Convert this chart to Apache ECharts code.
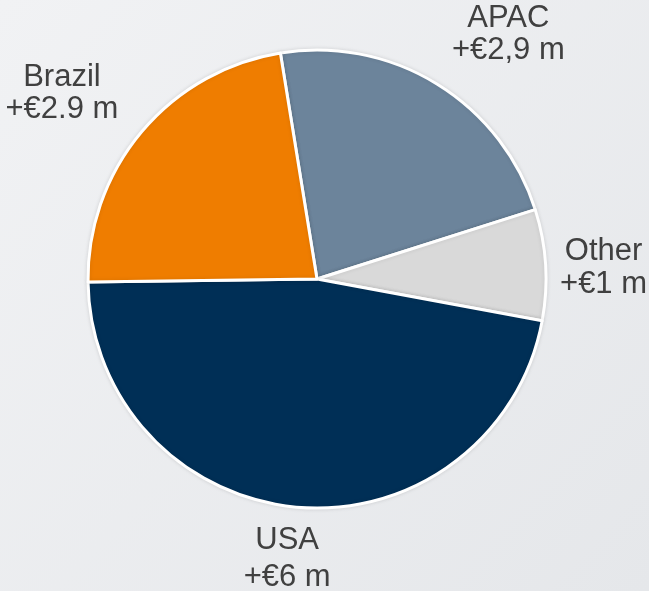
<!DOCTYPE html>
<html>
<head>
<meta charset="utf-8">
<script src="https://cdn.jsdelivr.net/npm/echarts@6/dist/echarts.min.js"></script>
<style>
  html, body { margin: 0; padding: 0; }
  #grafico { width: 649px; height: 591px; }
</style>
</head>
<body>
<div id="grafico"></div>
<script>
// Dados do gráfico (ordem horária a partir do topo)
const regioes = ['APAC', 'Other', 'USA', 'Brazil'];
const valores = [2.9, 1, 6, 2.9];
const rotulosValor = ['+€2,9 m', '+€1 m', '+€6 m', '+€2.9 m'];

// Cores de cada fatia
const cores = ['#6c849b', '#d9d9d9', '#002f56', '#ef7d00'];

// Comprimento das linhas (invisíveis) que posicionam os rótulos + ajuste vertical
const linhasRotulo = [
    { length: 60, length2: 40, lineHeight: 32, dy: 2 },
    { length: 10, length2: 48, lineHeight: 33, dy: 4 },
    { length: 52, length2: 6, lineHeight: 37, dy: 0 },
    { length: 61, length2: 33, lineHeight: 32, dy: 1 }
];

const chart = echarts.init(document.getElementById('grafico'));

const dados = regioes.map((nome, i) => ({
    name: nome,
    value: valores[i],
    itemStyle: { color: cores[i] },
    labelLine: { show: false, length: linhasRotulo[i].length, length2: linhasRotulo[i].length2 },
    label: { lineHeight: linhasRotulo[i].lineHeight }
}));

const option = {
    backgroundColor: new echarts.graphic.LinearGradient(0, 0, 1, 1, [
        { offset: 0, color: '#f1f2f4' },
        { offset: 1, color: '#e5e7ea' }
    ]),
    animation: false,
    series: [{
        type: 'pie',
        center: [317, 279],
        radius: 229,
        startAngle: 99.2,
        clockwise: true,
        avoidLabelOverlap: false,
        data: dados,
        itemStyle: {
            borderColor: '#ffffff',
            borderWidth: 3,
            shadowBlur: 4,
            shadowColor: 'rgba(0,0,0,0.10)'
        },
        label: {
            show: true,
            position: 'outside',
            bleedMargin: 0,
            overflow: 'none',
            formatter: p => p.name + '\n' + rotulosValor[p.dataIndex],
            fontFamily: 'Arial, "Liberation Sans", sans-serif',
            fontSize: 31,
            color: '#404040'
        },
        // Centraliza o rótulo no fim da linha
        labelLayout: function (p) {
            const ancora = p.align === 'right'
                ? p.labelRect.x + p.labelRect.width + 5
                : p.labelRect.x - 5;
            return { x: ancora, align: 'center', dy: linhasRotulo[p.dataIndex].dy };
        }
    }]
};

chart.setOption(option);
</script>
</body>
</html>
